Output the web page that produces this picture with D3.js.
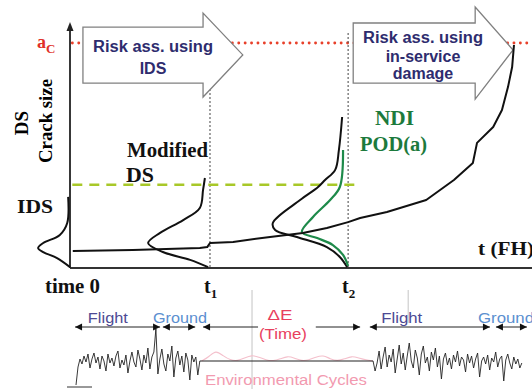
<!DOCTYPE html>
<html><head><meta charset="utf-8">
<script src="https://cdn.jsdelivr.net/npm/d3@7/dist/d3.min.js"></script>
<style>body{margin:0;background:#fff}svg{display:block}</style>
</head><body><svg id="c" width="532" height="389"></svg>
<script>
// ---------- data (time in % of plotted span, crack size in % of a_C) ----------
const criticalSize = 100;
const detectableSize = 37;
const inspectionTimes = [30.3, 60.2];
const crackGrowth = [[0.6,7.6],[13.6,8.0],[28.1,8.9],[29.7,9.3],[30.3,11.1],[35.3,11.6],[43.3,13.8],[50.4,15.6],[55.6,17.8],[60.2,20.4],[62.8,22.2],[68.6,24.9],[77.1,30.2],[83.1,39.1],[87.2,46.7],[88.1,55.6],[91.6,62.7],[93.5,70.2],[94.8,80.4],[95.7,89.3],[96.1,99.1]];
const idsCurve = [[-0.4,31.6],[-0.6,20],[-2.2,14.7],[-5.8,11.1],[-6.9,8.9],[-5.8,7.1],[-2.8,4.4],[0,0.4]];
const modifiedDsCurve = [[29.2,40],[28.8,34.7],[28.1,26.7],[24.5,21.3],[19.5,15.6],[16.9,11.1],[20.1,7.1],[26.0,3.6],[29.9,0.4]];
const inServiceCurve = [[58.9,67.1],[58.2,52.4],[57.4,43.6],[55.2,39.1],[53.7,36],[49.8,30.2],[43.9,20],[44.4,16.9],[49.1,13.8],[55.6,9.3],[58.4,4.9],[60.0,0.4]];
const podCurve = [[59.1,52.4],[58.4,36],[56.3,30.2],[52.6,22.7],[50.2,16],[53.5,13.3],[56.9,10.2],[59.1,5.8],[60.2,0.9]];
const flightLoad1 = [-20,-2,6,1,9,3,11,-3,6,12,2,8,-4,9,4,-6,11,2,7,-1,9,14,-3,5,0,10,-8,4,13,3,-2,15,6,-5,10,2,17,-4,8,13,36,-9,6,16,1,-6,11,4,19,-12,7,14,0,9,-7,12,5,-15,10,3,8,-10,4];
const flightLoad2 = [4,-6,2,14,-4,8,18,-2,10,3,16,-8,6,20,1,12,-5,9,22,4,-3,15,7,-10,11,19,2,8,-6,13,5,17,-2,9,-14,6,12,0,7,-4,10,3,14,-1,8,5,-7,11,2,9,-3,6,12,-12,4,8,1,10,-5,7,3,13,-2,6,9,-16,5,11,2,-4,8,1,6,-3,2];
const groundLoad = 4;
const envCycles = [4,8,15,9,5,4,7,10,8,5,4,6,9,7,4,5,8,10,6,4,6,9,7,5,4];
const signalSpans = [[1.3,28.1],[65.6,97.8],[28.5,65.6]];
const phases = [
  {label:"Flight", from:1.1, to:19.5, at:8.2, color:"#4d4a94"},
  {label:"Ground", from:20.1, to:27.1, at:23.8, color:"#5b8fd0"},
  {label:"ΔE", from:28.8, to:62.8, at:46.1, color:"#e8405e", gap:[40.7,53.2]},
  {label:"Flight", from:64.9, to:90.9, at:71.8, color:"#4d4a94"},
  {label:"Ground", from:92.2, to:98.9, at:97.5, color:"#5b8fd0"}
];
const riskArrows = [
  {lines:["Risk ass. using","IDS"], x0:2.8, xb:28.8, xt:37.4, yt:107.1, yb:82.2, ht:113.3, hb:76, ty:94.7},
  {lines:["Risk ass. using","in-service","damage"], x0:61.3, xb:87.7, xt:95.9, yt:108.9, yb:82.2, ht:116, hb:75.1, ty:96.9}
];

// ---------- drawing ----------
const svg = d3.select("#c");
svg.append("rect").attr("width",532).attr("height",389).attr("fill","#fff");
const x = d3.scaleLinear().domain([0,100]).range([70,532]);
const y = d3.scaleLinear().domain([0,100]).range([268,43]);
const ys = d3.scaleLinear().domain([-25,25]).range([390,340]);
const serif = "'Liberation Serif','Times New Roman',serif";
const sans = "'Liberation Sans',Arial,sans-serif";

// a_C red dotted line
svg.append("line").attr("x1",x(0.5)).attr("x2",532).attr("y1",y(criticalSize)).attr("y2",y(criticalSize))
  .attr("stroke","#e8402a").attr("stroke-width",2.8).attr("stroke-dasharray","0.1,6.3").attr("stroke-linecap","round");

// inspection dotted lines
inspectionTimes.forEach(t=>{
  svg.append("line").attr("x1",x(t)).attr("x2",x(t)).attr("y1",33).attr("y2",y(0))
    .attr("stroke","#555").attr("stroke-width",1.1).attr("stroke-dasharray","2,2");
});

// detectable size dashed line
svg.append("line").attr("x1",x(0.5)).attr("x2",x(62.8)).attr("y1",y(detectableSize)).attr("y2",y(detectableSize))
  .attr("stroke","#a8c828").attr("stroke-width",2.4).attr("stroke-dasharray","10,7");

// arrows
riskArrows.forEach(a=>{
  const pts=[[a.x0,a.yt],[a.xb,a.yt],[a.xb,a.ht],[a.xt,a.ty],[a.xb,a.hb],[a.xb,a.yb],[a.x0,a.yb]].map(p=>[x(p[0]),y(p[1])]);
  svg.append("path").attr("d",d3.line()(pts)+"Z").attr("fill","#fff").attr("stroke","#808080").attr("stroke-width",1.3);
});
const at1 = svg.append("g").attr("font-family",sans).attr("font-weight","bold").attr("font-size",16).attr("fill","#2e2c6e").attr("text-anchor","middle");
at1.append("text").attr("x",153).attr("y",52).attr("textLength",120).attr("lengthAdjust","spacingAndGlyphs").text(riskArrows[0].lines[0]);
at1.append("text").attr("x",153).attr("y",74).text(riskArrows[0].lines[1]);
at1.append("text").attr("x",423).attr("y",43).attr("textLength",120).attr("lengthAdjust","spacingAndGlyphs").text(riskArrows[1].lines[0]);
at1.append("text").attr("x",423).attr("y",62).text(riskArrows[1].lines[1]);
at1.append("text").attr("x",423).attr("y",79).text(riskArrows[1].lines[2]);

// axes
svg.append("line").attr("x1",x(0)).attr("x2",532).attr("y1",y(0)).attr("y2",y(0)).attr("stroke","#333").attr("stroke-width",2);
svg.append("line").attr("x1",x(0)).attr("x2",x(0)).attr("y1",y(0)).attr("y2",28).attr("stroke","#222").attr("stroke-width",1.8);
svg.append("path").attr("d",`M${x(0)-3.5},31 L${x(0)},22 L${x(0)+3.5},31 Z`).attr("fill","#222");

// curves
const line = d3.line().x(d=>x(d[0])).y(d=>y(d[1])).curve(d3.curveCatmullRom.alpha(0.5));
const lineLin = d3.line().x(d=>x(d[0])).y(d=>y(d[1]));
[idsCurve, modifiedDsCurve, inServiceCurve].forEach(c=>{
  svg.append("path").attr("d",line(c)).attr("fill","none").attr("stroke","#111").attr("stroke-width",2);
});
svg.append("path").attr("d",line(podCurve)).attr("fill","none").attr("stroke","#1e8a4a").attr("stroke-width",2.2);
svg.append("path").attr("d",lineLin(crackGrowth)).attr("fill","none").attr("stroke","#111").attr("stroke-width",2).attr("stroke-linejoin","round");

// labels
const ac = svg.append("text").attr("x",37).attr("y",48).attr("font-family",serif).attr("font-weight","bold").attr("fill","#e0302a");
ac.append("tspan").attr("font-size",18).text("a");
ac.append("tspan").attr("font-size",13).attr("dy",5).text("C");
svg.append("text").attr("transform","translate(28,123) rotate(-90)").attr("text-anchor","middle").attr("font-family",serif).attr("font-weight","bold").attr("font-size",19).text("DS");
svg.append("text").attr("transform","translate(52,121) rotate(-90)").attr("text-anchor","middle").attr("font-family",serif).attr("font-weight","bold").attr("font-size",19).attr("textLength",84).attr("lengthAdjust","spacingAndGlyphs").text("Crack size");
const sb = (t,xx,yy,len,size,fill)=>{const e=svg.append("text").attr("x",xx).attr("y",yy).attr("font-family",serif).attr("font-weight","bold").attr("font-size",size).attr("fill",fill||"#111").text(t); if(len) e.attr("textLength",len).attr("lengthAdjust","spacingAndGlyphs"); return e;};
sb("Modified",127,157,81,20);
sb("DS",126,182,28,20);
sb("IDS",17,213,36,18);
sb("NDI",375,125,39,20,"#1c7a3c");
sb("POD(a)",360,151,67,20,"#1c7a3c");
sb("time 0",45,293,55,20);
sb("t (FH)",478,255,56,19);
inspectionTimes.forEach((t,i)=>{
  const e=svg.append("text").attr("x",x(t)-6).attr("y",293).attr("font-family",serif).attr("font-weight","bold").attr("font-size",20).attr("fill","#111");
  e.append("tspan").text("t");
  e.append("tspan").attr("font-size",13).attr("dy",5).text(String(i+1));
});

// ---------- bottom: load spectrum ----------
svg.append("line").attr("x1",x(39.4)).attr("x2",x(39.4)).attr("y1",290).attr("y2",389).attr("stroke","#c4c4c4").attr("stroke-width",1);
svg.append("line").attr("x1",x(73.2)).attr("x2",x(73.2)).attr("y1",290).attr("y2",323).attr("stroke","#c4c4c4").attr("stroke-width",1);

const envX = d3.scaleLinear().domain([0,envCycles.length-1]).range(signalSpans[2].map(x));
svg.append("path").attr("d",d3.line().x((d,i)=>envX(i)).y(d=>ys(d)).curve(d3.curveBasis)(envCycles))
  .attr("fill","none").attr("stroke","#f4c0cc").attr("stroke-width",1.1);
svg.append("text").attr("x",205).attr("y",385).attr("font-family",sans).attr("font-size",14).attr("fill","#f29ab0")
  .attr("textLength",162).attr("lengthAdjust","spacingAndGlyphs").text("Environmental Cycles");

svg.append("line").attr("x1",x(signalSpans[0][1])).attr("x2",x(signalSpans[1][0])).attr("y1",ys(groundLoad)).attr("y2",ys(groundLoad)).attr("stroke","#222").attr("stroke-width",1.1);
[[flightLoad1,signalSpans[0]],[flightLoad2,signalSpans[1]]].forEach(([vals,span])=>{
  const sx = d3.scaleLinear().domain([0,vals.length-1]).range(span.map(x));
  svg.append("path").attr("d",d3.line().x((d,i)=>sx(i)).y(d=>ys(d))(vals)).attr("fill","none").attr("stroke","#222").attr("stroke-width",0.9);
});
svg.append("line").attr("x1",67).attr("x2",92).attr("y1",387).attr("y2",387).attr("stroke","#333").attr("stroke-width",1);

const ay = 327;
const head = (px,dir)=>svg.append("path").attr("d",`M${px},${ay} L${px-dir*7},${ay-3.5} L${px-dir*7},${ay+3.5} Z`).attr("fill","#111");
phases.forEach(p=>{
  if(p.gap){
    svg.append("line").attr("x1",x(p.from)).attr("x2",x(p.gap[0])).attr("y1",ay).attr("y2",ay).attr("stroke","#222").attr("stroke-width",1);
    svg.append("line").attr("x1",x(p.gap[1])).attr("x2",x(p.to)).attr("y1",ay).attr("y2",ay).attr("stroke","#222").attr("stroke-width",1);
  } else {
    svg.append("line").attr("x1",x(p.from)).attr("x2",x(p.to)).attr("y1",ay).attr("y2",ay).attr("stroke","#222").attr("stroke-width",1);
  }
  head(x(p.from),-1); head(x(p.to),1);
});
const lab = (t,xx,yy,len,fill,anchor)=>{const e=svg.append("text").attr("x",xx).attr("y",yy).attr("font-family",sans).attr("font-size",14).attr("fill",fill).attr("text-anchor",anchor||"middle").text(t); if(len) e.attr("textLength",len).attr("lengthAdjust","spacingAndGlyphs");};
lab(phases[0].label,x(phases[0].at),323,40,phases[0].color);
lab(phases[1].label,x(phases[1].at),323,54,phases[1].color);
lab(phases[2].label,x(phases[2].at)-3,320,25,phases[2].color);
lab("(Time)",x(phases[2].at),339,48,phases[2].color);
lab(phases[3].label,x(phases[3].at),323,41,phases[3].color);
lab(phases[4].label,478,323,56,phases[4].color,"start");
</script></body></html>
